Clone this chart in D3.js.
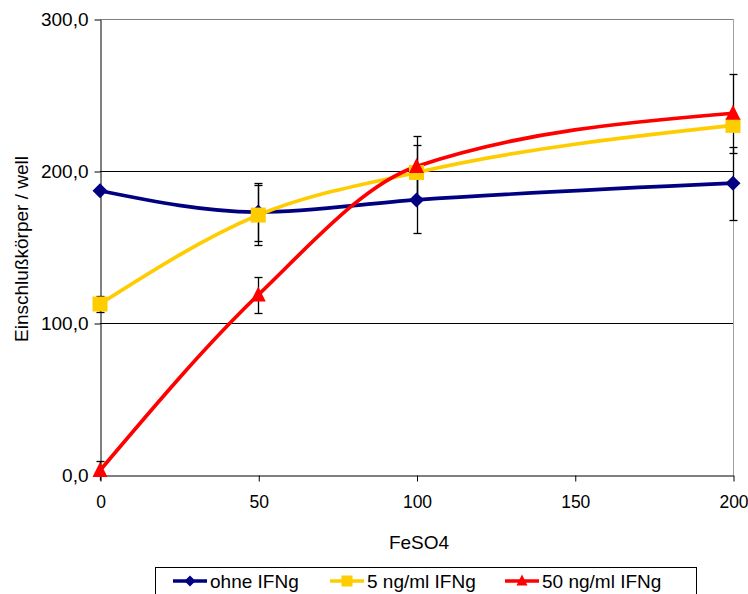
<!DOCTYPE html>
<html><head><meta charset="utf-8">
<script src="https://cdn.jsdelivr.net/npm/d3@7"></script>
<style>body{margin:0;background:#fff}svg{display:block;font-family:"Liberation Sans",Arial,sans-serif}</style>
</head><body>
<svg id="c" width="748" height="594"></svg>
<script>
const xValues = [0, 50, 100, 200];
const seriesNames = ["ohne IFNg", "5 ng/ml IFNg", "50 ng/ml IFNg"];
const ohne = [187, 173, 181, 192];
const ohneErr = [0, 19, 22, 24];
const ifn5 = [112.5, 171, 199, 230];
const ifn5Err = [5.5, 20, 18, 3];
const ifn50 = [3, 118.5, 203, 238];
const ifn50Err = [6, 12, 20, 26];
const colors = ["#000080", "#FFCC00", "#FF0000"];
const yTicks = [0, 100, 200, 300];
const xTicks = [0, 50, 100, 150, 200];

const FS = 19;
const svg = d3.select("#c");
const x = d3.scaleLinear().domain([0, 200]).range([100, 733]);
const y = d3.scaleLinear().domain([0, 300]).range([475, 19]);
const cr = v => Math.round(v) + 0.5;

// grid
svg.selectAll(".g").data([100, 200]).enter().append("line")
  .attr("x1", 100).attr("x2", 733).attr("y1", d => cr(y(d))).attr("y2", d => cr(y(d)))
  .attr("stroke", "#000").attr("stroke-width", 1);
// plot border top/right
svg.append("line").attr("x1", 100).attr("x2", 733).attr("y1", cr(y(300))).attr("y2", cr(y(300))).attr("stroke", "#808080");
svg.append("line").attr("x1", 733.5).attr("x2", 733.5).attr("y1", y(300)).attr("y2", y(0)).attr("stroke", "#a0a0a0");

const fmt = d => d.toFixed(1).replace(".", ",");
const yAxis = svg.append("g").attr("transform", "translate(100.5,0.5)")
  .call(d3.axisLeft(y).tickValues(yTicks).tickFormat(fmt).tickSizeInner(6).tickSizeOuter(0).tickPadding(6));
const xAxis = svg.append("g").attr("transform", "translate(0.5,475.5)")
  .call(d3.axisBottom(x).tickValues(xTicks).tickSizeInner(6).tickSizeOuter(0).tickPadding(14));
[yAxis, xAxis].forEach(a => {
  a.attr("font-family", "Liberation Sans, Arial, sans-serif");
  a.select(".domain").attr("stroke", "#000");
  a.selectAll("line").attr("stroke", "#000");
  a.selectAll("text").attr("fill", "#000");
});
yAxis.attr("font-size", FS);
xAxis.attr("font-size", 17.5);

svg.append("text").attr("x", 419).attr("y", 549).attr("text-anchor", "middle")
  .attr("font-size", FS).text("FeSO4");
svg.append("text").attr("transform", "translate(28,249) rotate(-90)").attr("text-anchor", "middle")
  .attr("font-size", FS).text("Einschlußkörper / well");

const series = [
  {vals: ohne, err: ohneErr},
  {vals: ifn5, err: ifn5Err},
  {vals: ifn50, err: ifn50Err}
];

const line = d3.line().x(d => x(d[0])).y(d => y(d[1])).curve(d3.curveMonotoneX);

// error bars
series.forEach(s => {
  s.vals.forEach((v, i) => {
    const e = s.err[i];
    if (!e) return;
    const cx = cr(x(xValues[i]));
    const top = cr(y(v + e)), bot = cr(y(Math.max(v - e, -3)));
    const g = svg.append("g").attr("stroke", "#000").attr("stroke-width", 1.3);
    g.append("line").attr("x1", cx).attr("x2", cx).attr("y1", top).attr("y2", bot);
    g.append("line").attr("x1", cx - 4).attr("x2", cx + 4).attr("y1", top).attr("y2", top);
    if (v - e >= 0) g.append("line").attr("x1", cx - 4).attr("x2", cx + 4).attr("y1", bot).attr("y2", bot);
  });
});

function marker(g, type, cx, cy, color, s) {
  if (type === 0) g.append("path").attr("d", `M${cx},${cy - s}L${cx + s},${cy}L${cx},${cy + s}L${cx - s},${cy}Z`).attr("fill", color);
  else if (type === 1) g.append("rect").attr("x", cx - s).attr("y", cy - s).attr("width", 2 * s).attr("height", 2 * s).attr("fill", color);
  else g.append("path").attr("d", `M${cx},${cy - s - 1}L${cx + s},${cy + s - 1}L${cx - s},${cy + s - 1}Z`).attr("fill", color);
}

series.forEach((s, k) => {
  const pts = xValues.map((xv, i) => [xv, s.vals[i]]);
  svg.append("path").attr("d", line(pts)).attr("fill", "none").attr("stroke", colors[k]).attr("stroke-width", 3.7);
});
series.forEach((s, k) => {
  const g = svg.append("g");
  s.vals.forEach((v, i) => marker(g, k, x(xValues[i]), y(v), colors[k], 7.5));
});

// legend
svg.append("rect").attr("x", 155.5).attr("y", 567.5).attr("width", 541).attr("height", 40)
  .attr("fill", "#fff").attr("stroke", "#000");
const legX = [173, 330, 505];
seriesNames.forEach((n, k) => {
  const g = svg.append("g");
  g.append("line").attr("x1", legX[k]).attr("x2", legX[k] + 34).attr("y1", 581).attr("y2", 581)
    .attr("stroke", colors[k]).attr("stroke-width", 3.5);
  marker(g, k, legX[k] + 17, 581, colors[k], 5.5);
  g.append("text").attr("x", legX[k] + 37).attr("y", 588).attr("font-size", FS).text(n);
});
</script>
</body></html>
